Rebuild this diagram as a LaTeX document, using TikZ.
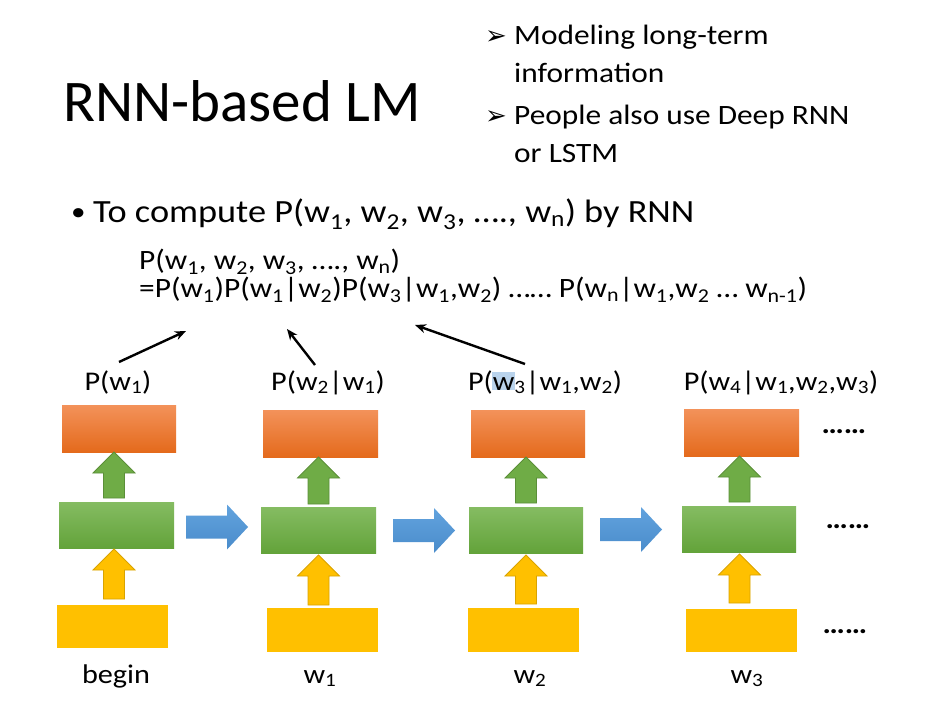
\documentclass[tikz,border=0pt]{standalone}
\usepackage{fontspec}
\setmainfont{Carlito}[FakeStretch=1.12]
\newfontfamily\titlefont{Carlito}
\newfontfamily\symfont{DejaVu Sans}
\usetikzlibrary{arrows.meta}
\newcommand\mysub[1]{\textsubscript{#1}}
\definecolor{orgtop}{HTML}{F3925A}
\definecolor{orgbot}{HTML}{E46A1C}
\definecolor{grntop}{HTML}{85BC62}
\definecolor{grnbot}{HTML}{63A33A}
\definecolor{grnarr}{HTML}{6FAC46}
\definecolor{grnedge}{HTML}{5B8F38}
\definecolor{yel}{HTML}{FFC000}
\definecolor{yeledge}{HTML}{D9A300}
\definecolor{blutop}{HTML}{62A3DE}
\definecolor{blubot}{HTML}{4A8CCB}
\definecolor{hilite}{HTML}{B9D3EC}
\tikzset{
  txt/.style={inner sep=0pt, font=\fontsize{28}{34}\selectfont},
  lab/.style={inner sep=0pt, font=\fontsize{27}{32}\selectfont},
  outbox/.style={rectangle, inner sep=0pt, top color=orgtop, bottom color=orgbot, draw=none},
  hidbox/.style={rectangle, inner sep=0pt, top color=grntop, bottom color=grnbot, draw=none},
  inbox/.style={rectangle, inner sep=0pt, fill=yel, draw=none},
  conn/.style={line width=2.4pt, -{Stealth[length=11pt,width=9pt]}},
}
% up arrow: #1 centre x, #2 top y, #3 bottom y, #4 fill, #5 edge
\newcommand\uparr[5]{%
  \filldraw[fill=#4, draw=#5, line width=0.8pt]
    (#1,#2) -- (#1+21,#2+21) -- (#1+10.5,#2+21) -- (#1+10.5,#3)
    -- (#1-10.5,#3) -- (#1-10.5,#2+21) -- (#1-21,#2+21) -- cycle;}
% right arrow: #1 left x, #2 tip x, #3 centre y
\newcommand\rtarr[3]{%
  \shade[top color=blutop, bottom color=blubot]
    (#1,#3-11.5) -- (#2-21,#3-11.5) -- (#2-21,#3-22.5) -- (#2,#3)
    -- (#2-21,#3+22.5) -- (#2-21,#3+11.5) -- (#1,#3+11.5) -- cycle;}
\begin{document}
\begin{tikzpicture}[x=1pt,y=-1pt]
\useasboundingbox (0,0) rectangle (926,708);
\fill[white] (0,0) rectangle (926,708);

% title
\node[inner sep=0pt, anchor=base west, font=\titlefont\fontsize{59}{66}\selectfont] (title) at (63,122) {RNN-based LM};

% right bullets
\node[inner sep=0pt, anchor=base west, font=\symfont\fontsize{26}{28}\selectfont] (a1) at (485,45) {➢};
\node[txt, anchor=base west] (rb1) at (514,45) {Modeling long-term};
\node[txt, anchor=base west] (rb1b) at (514,83) {information};
\node[inner sep=0pt, anchor=base west, font=\symfont\fontsize{26}{28}\selectfont] (a2) at (485,125) {➢};
\node[txt, anchor=base west] (rb2) at (514,125) {People also use Deep RNN};
\node[txt, anchor=base west] (rb2b) at (514,163) {or LSTM};

% main bullet
\node[inner sep=0pt, anchor=base west, font=\fontsize{26}{30}\selectfont] (bdot) at (71,221) {•};
\node[inner sep=0pt, anchor=base west, font=\fontsize{32.4}{36}\selectfont] (bul) at (93,223) {To compute P(w\mysub{1}, w\mysub{2}, w\mysub{3}, …., w\mysub{n}) by RNN};

% formula (two lines, one node; base = last line)
\node[inner sep=0pt, anchor=base west, align=left, font=\fontsize{28}{28}\selectfont] (f) at (139,298)
  {P(w\mysub{1}, w\mysub{2}, w\mysub{3}, …., w\mysub{n})\\
   =P(w\mysub{1})P(w\mysub{1}|w\mysub{2})P(w\mysub{3}|w\mysub{1},w\mysub{2}) …… P(w\mysub{n}|w\mysub{1},w\mysub{2} … w\mysub{n-1})};

% highlight
\fill[hilite] (492,372) rectangle (515,390);

% output labels
\node[lab, anchor=base] (p1) at (118,390) {P(w\mysub{1})};
\node[lab, anchor=base] (p2) at (328,390) {P(w\mysub{2}|w\mysub{1})};
\node[lab, anchor=base] (p3) at (545,390) {P(w\mysub{3}|w\mysub{1},w\mysub{2})};
\node[lab, anchor=base] (p4) at (781,390) {P(w\mysub{4}|w\mysub{1},w\mysub{2},w\mysub{3})};

% boxes
\node[outbox, minimum width=114pt, minimum height=47pt] (o1) at (119,428.5) {};
\node[outbox, minimum width=115pt, minimum height=47pt] (o2) at (320.5,433.5) {};
\node[outbox, minimum width=114pt, minimum height=47pt] (o3) at (528,433.5) {};
\node[outbox, minimum width=115pt, minimum height=47pt] (o4) at (741.5,432.5) {};

\node[hidbox, minimum width=115pt, minimum height=46pt] (h1) at (116.5,525) {};
\node[hidbox, minimum width=115pt, minimum height=46pt] (h2) at (318.5,530) {};
\node[hidbox, minimum width=114pt, minimum height=46pt] (h3) at (526,530) {};
\node[hidbox, minimum width=114pt, minimum height=46pt] (h4) at (739,529) {};

\node[inbox, minimum width=111pt, minimum height=43pt] (i1) at (112.5,626.5) {};
\node[inbox, minimum width=111pt, minimum height=44pt] (i2) at (322.5,630) {};
\node[inbox, minimum width=111pt, minimum height=44pt] (i3) at (523.5,630) {};
\node[inbox, minimum width=111pt, minimum height=43pt] (i4) at (741.5,630.5) {};

% up arrows
\uparr{114}{452}{498}{grnarr}{grnedge}
\uparr{318.5}{457}{504}{grnarr}{grnedge}
\uparr{526}{457}{503}{grnarr}{grnedge}
\uparr{739.5}{456}{502}{grnarr}{grnedge}
\uparr{114}{549}{599}{yel}{yeledge}
\uparr{318.5}{555}{605}{yel}{yeledge}
\uparr{526}{555}{604}{yel}{yeledge}
\uparr{739.5}{554}{603}{yel}{yeledge}

% recurrent arrows
\rtarr{186}{248}{527}
\rtarr{393}{455}{530.5}
\rtarr{600}{662}{529.5}

% input labels
\node[lab, anchor=base] (x1) at (116,683) {begin};
\node[lab, anchor=base] (x2) at (320,683) {w\mysub{1}};
\node[lab, anchor=base] (x3) at (530,683) {w\mysub{2}};
\node[lab, anchor=base] (x4) at (747,683) {w\mysub{3}};

% dots
\node[txt, font=\bfseries\fontsize{28}{34}\selectfont] (d1) at (844,432) {……};
\node[txt, font=\bfseries\fontsize{28}{34}\selectfont] (d2) at (848,527) {……};
\node[txt, font=\bfseries\fontsize{28}{34}\selectfont] (d3) at (845,632) {……};

% connectors
\coordinate (s1) at (119,362);
\coordinate (t1) at (186,331);
\coordinate (s2) at (315,365);
\coordinate (t2) at (287,329);
\coordinate (s3) at (525,364);
\coordinate (t3) at (415,325);
\draw[conn] (s1) -- (t1);
\draw[conn] (s2) -- (t2);
\draw[conn] (s3) -- (t3);
\end{tikzpicture}
\end{document}
